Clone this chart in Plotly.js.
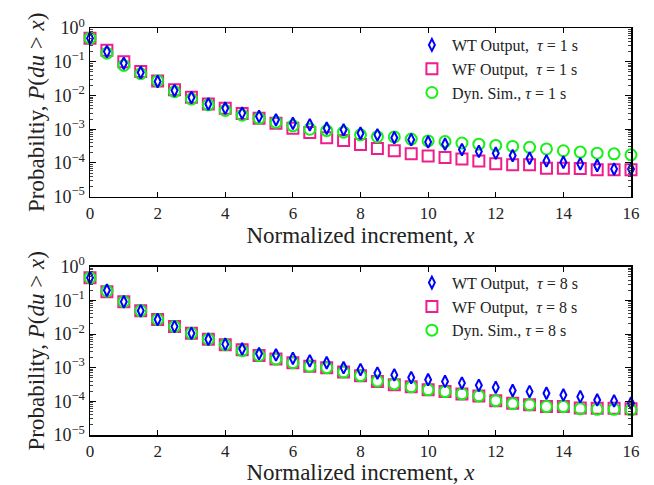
<!DOCTYPE html>
<html>
<head>
<meta charset="utf-8">
<script src="https://cdn.plot.ly/plotly-3.0.1.min.js"></script>
<style>html,body{margin:0;padding:0;background:#fff;}#chart{width:654px;height:485px;}</style>
</head>
<body>
<div id="chart"></div>
<script>
// Normalized increment
const xVals = [0,0.5,1,1.5,2,2.5,3,3.5,4,4.5,5,5.5,6,6.5,7,7.5,8,8.5,9,9.5,10,10.5,11,11.5,12,12.5,13,13.5,14,14.5,15,15.5,16];

// tau = 1 s
const wt1 = [0.5,0.20,0.09,0.048,0.026,0.014,0.0087,0.0056,0.0042,0.0030,0.0024,0.0019,0.0015,0.00135,0.00107,0.00096,0.00076,0.00068,0.00056,0.00049,0.00042,0.00036,0.00025,0.00022,0.000195,0.000166,0.000138,0.000115,0.000105,0.000094,0.000084,0.000066,0.000066];
const wf1 = [0.5,0.22,0.10,0.051,0.027,0.0148,0.0089,0.0056,0.0042,0.0029,0.0021,0.0015,0.00107,0.00080,0.00056,0.00046,0.00035,0.00027,0.00023,0.000186,0.000162,0.000145,0.00013,0.000115,0.000094,0.000088,0.000088,0.00007,0.00007,0.000068,0.000063,0.000063,0.000063];
const dyn1 = [0.5,0.18,0.078,0.044,0.027,0.013,0.0078,0.0053,0.0036,0.0026,0.0021,0.0016,0.00126,0.0010,0.00091,0.00082,0.00068,0.0006,0.00059,0.00051,0.00045,0.00043,0.00039,0.00036,0.00033,0.00031,0.00029,0.00026,0.00023,0.00021,0.000195,0.000186,0.000174];

// tau = 8 s
const wt8 = [0.47,0.2,0.091,0.049,0.027,0.0166,0.0105,0.0070,0.0050,0.0036,0.0026,0.0024,0.0019,0.0016,0.0014,0.001,0.00088,0.00069,0.00061,0.00051,0.00044,0.00039,0.00035,0.00030,0.00026,0.00021,0.000195,0.000174,0.000155,0.000138,0.00011,0.000103,0.000088];
const wf8 = [0.47,0.18,0.091,0.049,0.027,0.0166,0.0105,0.0070,0.0048,0.0034,0.0023,0.0018,0.0014,0.0011,0.001,0.00074,0.00058,0.00039,0.00031,0.00027,0.00022,0.000195,0.000166,0.000145,0.000105,0.000088,0.000079,0.00007,0.00007,0.000063,0.000062,0.000062,0.00006];
const dyn8 = [0.47,0.19,0.091,0.049,0.027,0.0166,0.0105,0.0070,0.0048,0.0032,0.0023,0.0018,0.0014,0.0011,0.001,0.00074,0.00058,0.0004,0.00033,0.00027,0.00022,0.000195,0.000166,0.000145,0.000105,0.000085,0.000079,0.00007,0.00007,0.00006,0.000058,0.000058,0.000056];

// Tick labels
const yTickVals = [1,0.1,0.01,0.001,0.0001,0.00001];
const yTickText = ['10<sup>0</sup>','10<sup>−1</sup>','10<sup>−2</sup>','10<sup>−3</sup>','10<sup>−4</sup>','10<sup>−5</sup>'];
const xTickVals = [0,2,4,6,8,10,12,14,16];

// Legend labels
const names1 = ['WT Output,  <i>τ</i> = 1 s','WF Output,  <i>τ</i> = 1 s','Dyn. Sim., <i>τ</i> = 1 s'];
const names8 = ['WT Output,  <i>τ</i> = 8 s','WF Output,  <i>τ</i> = 8 s','Dyn. Sim., <i>τ</i> = 8 s'];
const yTitles = ['Probabiltiy, <i>P</i>(<i>du</i> > <i>x</i>)','Probability, <i>P</i>(<i>du</i> > <i>x</i>)'];
const xTitle = 'Normalized increment, <i>x</i>';

// minor tick positions (2..9 within each decade)
const yMinorVals = [];
for (let e = -5; e < 0; e++) for (let m = 2; m <= 9; m++) yMinorVals.push(m * Math.pow(10, e));

const FONT = 'Liberation Serif, Times New Roman, serif';
const BLUE = '#0000ff', PINK = '#ee1f8c', GREEN = '#19f019';

function mk(y, name, sym, size, color, xa, ya, leg, rank) {
  return {x: xVals, y: y, name: name, type: 'scatter', mode: 'markers', xaxis: xa, yaxis: ya,
    legend: leg, legendrank: rank, cliponaxis: false,
    marker: {symbol: sym, size: size, color: color, line: {color: color, width: 2}}};
}

const data = [
  mk(wf1, names1[1], 'square-open', 11, PINK, 'x', 'y', 'legend', 2),
  mk(dyn1, names1[2], 'circle-open', 11, GREEN, 'x', 'y', 'legend', 3),
  mk(wt1, names1[0], 'diamond-tall-open', 8.5, BLUE, 'x', 'y', 'legend', 1),
  mk(wf8, names8[1], 'square-open', 11, PINK, 'x2', 'y2', 'legend2', 2),
  mk(dyn8, names8[2], 'circle-open', 11, GREEN, 'x2', 'y2', 'legend2', 3),
  mk(wt8, names8[0], 'diamond-tall-open', 8.5, BLUE, 'x2', 'y2', 'legend2', 1)
];

function xax(anchor) {
  return {anchor: anchor, range: [0, 16], tickmode: 'array', tickvals: xTickVals,
    ticks: 'inside', ticklen: 5, tickwidth: 1, tickcolor: '#000', showline: true, linecolor: '#000', linewidth: 1.5,
    mirror: 'allticks', showgrid: false, zeroline: false, tickfont: {size: 17, color: '#222'},
    title: {text: xTitle, font: {size: 23, color: '#222'}, standoff: 1}};
}
function yax(anchor, domain, title) {
  return {anchor: anchor, domain: domain, type: 'log', range: [-5, 0], tickmode: 'array',
    tickvals: yTickVals, ticktext: yTickText,
    ticks: 'inside', ticklen: 6, tickwidth: 1, tickcolor: '#000', showline: true, linecolor: '#000', linewidth: 1.5,
    mirror: 'allticks', showgrid: false, zeroline: false, tickfont: {size: 18, color: '#222'},
    minor: {tickmode: 'array', tickvals: yMinorVals, ticks: 'inside', ticklen: 3, tickcolor: '#444', tickwidth: 1, showgrid: false},
    title: {text: title, font: {size: 23, color: '#222'}, standoff: 2}};
}

const layout = {
  width: 654, height: 485,
  margin: {l: 90, r: 23, t: 28, b: 50},
  paper_bgcolor: '#fff', plot_bgcolor: '#fff',
  font: {family: FONT, color: '#222'},
  showlegend: true,
  xaxis: xax('y'),
  yaxis: yax('x', [0.5855, 1], yTitles[0]),
  xaxis2: xax('y2'),
  yaxis2: yax('x2', [0, 0.4135], yTitles[1]),
  legend: {x: 0.595, y: 1.0, xanchor: 'left', yanchor: 'top', bgcolor: 'rgba(0,0,0,0)',
    font: {size: 16, color: '#222'}, tracegroupgap: 0},
  legend2: {x: 0.595, y: 0.416, xanchor: 'left', yanchor: 'top', bgcolor: 'rgba(0,0,0,0)',
    font: {size: 16, color: '#222'}, tracegroupgap: 0}
};

Plotly.newPlot('chart', data, layout, {displayModeBar: false, staticPlot: true});
</script>
</body>
</html>
